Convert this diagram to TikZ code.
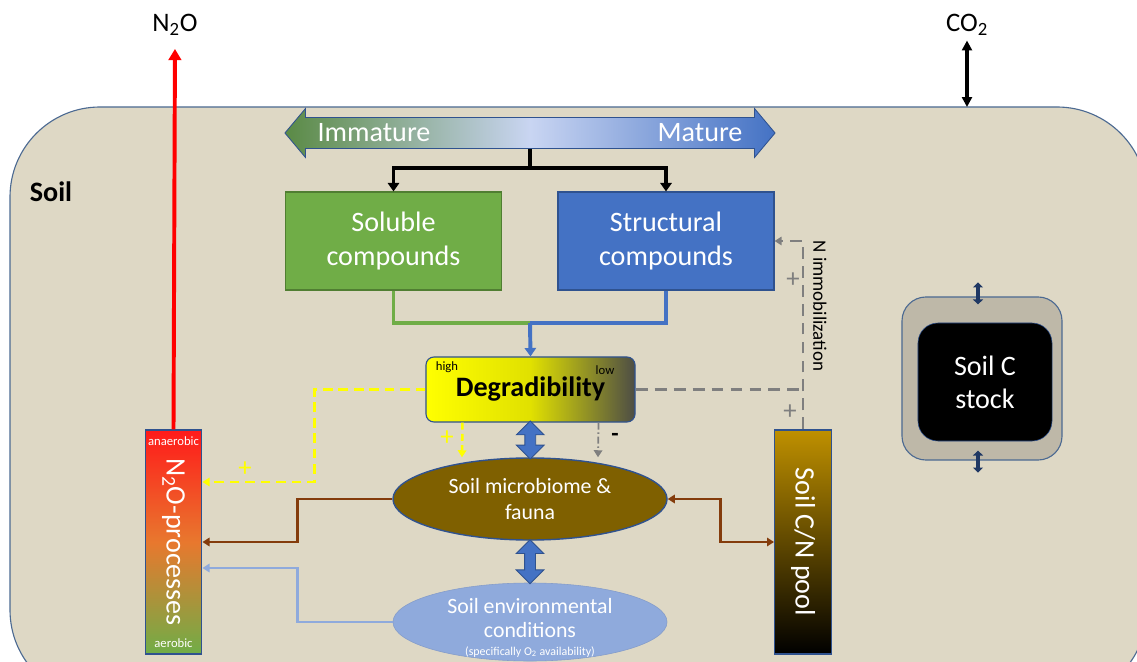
\documentclass[tikz,border=0pt]{standalone}
\usepackage{fontspec}
\setmainfont{Carlito}
\usepackage{xcolor}
\usepackage{tikz}
\usetikzlibrary{shapes.geometric,shapes.arrows,arrows.meta,positioning,calc}
\definecolor{suelo}{HTML}{DED8C5}
\definecolor{borde}{HTML}{4C6A92}
\definecolor{verde}{HTML}{70AD47}
\definecolor{verdeborde}{HTML}{507E32}
\definecolor{verdeoscuro}{HTML}{5A8A45}
\definecolor{azul}{HTML}{4472C4}
\definecolor{azuloscuro}{HTML}{2F528F}
\definecolor{celeste}{HTML}{8FAADC}
\definecolor{cielo}{HTML}{C9D5F2}
\definecolor{marron}{HTML}{843C0C}
\definecolor{oliva}{HTML}{7F6000}
\definecolor{dorado}{HTML}{BF9000}
\definecolor{gris}{HTML}{7F7F7F}
\definecolor{grisoscuro}{HTML}{4D4D45}
\definecolor{piedra}{HTML}{BEB8A8}
\definecolor{marino}{HTML}{1F3864}
\definecolor{rojo}{HTML}{FF1A1A}
\definecolor{anaranjado}{HTML}{E8782E}
\definecolor{amarillo}{HTML}{FFFF00}

\begin{document}
\begin{tikzpicture}[x=0.025cm,y=-0.025cm,
  every node/.style={font=\fontsize{20}{23.5}\selectfont,align=center},
  caja/.style={draw=azuloscuro,line width=0.8pt,text=white,
               minimum width=5.4cm,minimum height=2.45cm,inner sep=0pt},
  columna/.style={draw=azuloscuro,line width=0.8pt,
                  minimum width=1.42cm,minimum height=5.6cm,inner sep=0pt},
  chico/.style={font=\fontsize{9}{10}\selectfont},
  signo/.style={font=\fontsize{19}{19}\selectfont},
  traza/.style={line width=2.8pt},
  flecha/.style={traza,-{Triangle[length=6pt,width=8pt]}},
  ida/.style={line width=2pt,-{Triangle[length=5pt,width=6pt]}},
  idavuelta/.style={line width=2pt,{Triangle[length=5pt,width=6pt]}-{Triangle[length=5pt,width=6pt]}},
  rayas/.style={line width=1.8pt,dash pattern=on 7pt off 4pt,-{Triangle[length=5pt,width=6pt]}},
  bloque/.style={double arrow,shape border rotate=90,fill=azul,draw=azuloscuro,
                 line width=0.6pt,inner sep=0.125cm,double arrow head extend=0.21cm},
  pasoC/.style={marino,line width=2.6pt,{Triangle[length=3.5pt,width=7pt]}-{Triangle[length=3.5pt,width=7pt]}}
]
\clip (0,0) rectangle (1137,662);
\fill[white] (0,0) rectangle (1137,662);
\draw[borde,fill=suelo,line width=0.8pt,rounded corners=2.25cm] (10,107) rectangle (1147,700);

% etiquetas exteriores
\node[font=\bfseries\fontsize{20}{23.5}\selectfont] (etiqsuelo) at (51,192) {Soil};
\node[font=\fontsize{19}{22}\selectfont] (n2oaire) at (175,25) {N\textsubscript{2}O};
\node[font=\fontsize{19}{22}\selectfont] (co2) at (967,25) {CO\textsubscript{2}};
\coordinate (superficie) at (967,107);

% madurez
\node[double arrow,minimum height=12.25cm,inner sep=0.375cm,
      double arrow head extend=0.225cm,double arrow tip angle=100,
      left color=verdeoscuro,right color=azul,middle color=cielo,
      draw=azuloscuro,line width=0.6pt] (madurez) at (530,133) {};
\node[text=white] (inmaduro) at (374,133) {Immature};
\node[text=white] (maduro) at (700,133) {Mature};

% compuestos
\node[caja,fill=verde,draw=verdeborde] (soluble) at (393.5,241) {Soluble\\compounds};
\node[caja,fill=azul] (estructural) at (666,241) {Structural\\compounds};

% degradabilidad y biota
\node[draw=azuloscuro,line width=0.8pt,rounded corners=0.2cm,
      minimum width=5.225cm,minimum height=1.625cm,
      left color=amarillo,right color=grisoscuro,middle color=amarillo!88!black,
      font=\bfseries\fontsize{20}{23.5}\selectfont] (degradab) at (530.5,389.5) {Degradibility};
\node[chico] (alto) at (447,367) {high};
\node[chico] (bajo) at (605,370) {low};
\node[ellipse,draw=azuloscuro,line width=1pt,fill=oliva,text=white,
      minimum width=6.85cm,minimum height=2.05cm,inner sep=0pt,
      font=\fontsize{15.5}{19}\selectfont] (microbio) at (530,499) {Soil microbiome \&\\fauna};
\node[ellipse,draw=celeste!92!black,fill=celeste,
      minimum width=6.85cm,minimum height=1.95cm,inner sep=0pt] (ambiente) at (530,622) {};
\node[text=white,inner sep=0pt,font=\fontsize{15.5}{17}\selectfont] (ambtxt) at (530,618)
      {Soil environmental\\conditions};
\node[text=white,inner sep=0pt,font=\fontsize{8.5}{9}\selectfont] (ambnota) at (530,652)
      {(specifically O\textsubscript{2} availability)};
\node[bloque,minimum height=0.95cm] (flujo1) at ($(degradab.south)!0.5!(microbio.north)$) {};
\node[bloque,minimum height=1.1cm] (flujo2) at ($(microbio.south)!0.5!(ambiente.north)$) {};

% columnas
\node[columna,top color=rojo,bottom color=verde,middle color=anaranjado] (procesos) at (173.5,542) {};
\node[rotate=-90,text=white] (procesostxt) at (procesos.center) {N\textsubscript{2}O-processes};
\node[chico,text=white] (anaerob) at (173.5,441) {anaerobic};
\node[chico,text=white] (aerob) at (173.5,643) {aerobic};
\node[columna,top color=dorado,bottom color=black,middle color=dorado!50!black] (reserva) at (803,542) {};
\node[rotate=-90,text=white] (reservatxt) at (reserva.center) {Soil C/N pool};

% stock de carbono
\node[draw=borde,fill=piedra,line width=0.8pt,rounded corners=0.6cm,
      minimum width=4cm,minimum height=4.075cm] (reservaC) at (982,378.5) {};
\node[fill=black,draw=azuloscuro,rounded corners=0.5cm,text=white,
      minimum width=3.35cm,minimum height=2.95cm] (stockC) at (985,382) {Soil C\\stock};
\draw[pasoC] ([xshift=-0.1cm,yshift=0.35cm]reservaC.north) -- ([xshift=-0.1cm,yshift=-0.2cm]reservaC.north);
\draw[pasoC] ([xshift=-0.1cm,yshift=0.25cm]reservaC.south) -- ([xshift=-0.1cm,yshift=-0.3cm]reservaC.south);

% conectores
\draw[traza,red,-{Triangle[length=8pt,width=9pt]},shorten >=6pt] (procesos.north) -- (n2oaire.south);
\draw[line width=2.2pt,{Triangle[length=7pt,width=7pt]}-{Triangle[length=7pt,width=7pt]}]
  (co2.south) -- (superficie);
\coordinate (reparto) at (530,168);
\draw[traza] (madurez.south) -- (reparto);
\draw[flecha] (reparto) -| (soluble.north);
\draw[flecha] (reparto) -| (estructural.north);
\coordinate (union) at (530,323);
\draw[traza,verde] (soluble.south) |- (union);
\draw[traza,azul] (estructural.south) |- (union);
\draw[flecha,azul] (union) -- (degradab.north);
\draw[ida,marron] (microbio.west) -- ++(-95,0) |- (procesos.east);
\draw[ida,celeste] (ambiente.west) -- ++(-95,0) |- ([yshift=-0.65cm]procesos.east);
\draw[idavuelta,marron] (microbio.east) -- ++(53,0) |- (reserva.west);
\draw[rayas,amarillo] (degradab.west) -- ++(-111,0) |- ([yshift=1.5cm]procesos.east);
\draw[rayas,amarillo,dash pattern=on 5pt off 3pt] ([xshift=-1.7cm]degradab.south) -- ([xshift=-1.7cm]microbio.north);
\draw[rayas,gris,line width=1.3pt,dash pattern=on 5pt off 2pt on 1pt off 2pt] ([xshift=1.7cm]degradab.south) -- ([xshift=1.7cm]microbio.north);
\draw[rayas,gris,line width=2pt,dash pattern=on 8.5pt off 5pt] (reserva.north) |- (estructural.east);
\draw[gris,line width=2pt,dash pattern=on 8.5pt off 5pt] (degradab.east) -- (reserva.north |- degradab.east);
\node[rotate=-90,font=\fontsize{13.5}{15}\selectfont] (inmov) at (820,306) {N immobilization};

% signos
\node[signo,amarillo] (mas1) at (245,469) {+};
\node[signo,amarillo] (mas2) at (447,438) {+};
\node[font=\bfseries\fontsize{17}{17}\selectfont] (menos) at (615,437) {-};
\node[signo,gris] (mas3) at (793,280) {+};
\node[signo,gris] (mas4) at (790,412) {+};
\end{tikzpicture}
\end{document}
